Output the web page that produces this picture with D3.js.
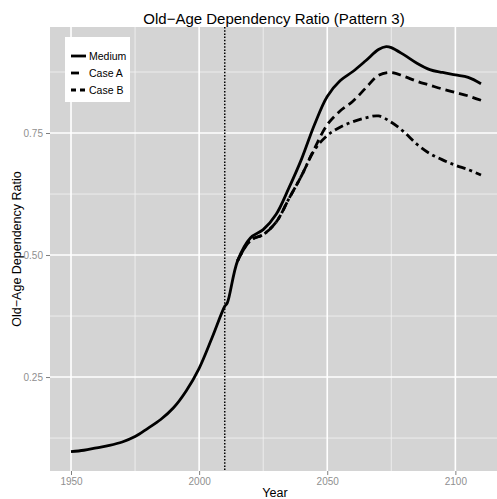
<!DOCTYPE html>
<html>
<head>
<meta charset="utf-8">
<script src="https://cdn.jsdelivr.net/npm/d3@7"></script>
<style>
  html, body { margin: 0; padding: 0; background: #ffffff; }
  svg { display: block; font-family: "Liberation Sans", Arial, sans-serif; }
</style>
</head>
<body>
<svg id="chart" width="497" height="499"></svg>
<script>
// Old-age dependency ratio, medium variant and two alternative cases
const medYears = [1950,1955,1960,1965,1970,1975,1980,1985,1990,1995,2000,2005,2010,2011,2015,2020,2025,2030,2035,2040,2045,2050,2055,2060,2065,2070,2073,2075,2080,2085,2090,2095,2100,2105,2110];
const medValues = [0.097,0.100,0.105,0.110,0.117,0.128,0.145,0.163,0.187,0.222,0.268,0.330,0.395,0.402,0.488,0.535,0.552,0.583,0.637,0.697,0.767,0.825,0.857,0.876,0.898,0.921,0.927,0.925,0.910,0.893,0.880,0.874,0.869,0.864,0.851];

const caseYears = [2015,2020,2025,2030,2035,2040,2045,2050,2055,2060,2065,2070,2075,2080,2085,2090,2095,2100,2105,2110];
const caseAValues = [0.488,0.530,0.542,0.567,0.615,0.663,0.718,0.767,0.795,0.815,0.842,0.868,0.874,0.866,0.856,0.848,0.840,0.833,0.826,0.817];
const caseBValues = [0.488,0.530,0.542,0.567,0.615,0.663,0.715,0.745,0.762,0.773,0.781,0.785,0.772,0.752,0.727,0.708,0.695,0.684,0.675,0.664];

const seriesNames = ["Medium", "Case A", "Case B"];
const xTicks = [1950, 2000, 2050, 2100];
const xMinor = [1975, 2025, 2075];
const yTicks = [0.25, 0.50, 0.75];
const yMinor = [0.125, 0.375, 0.625, 0.875];
const baseYear = 2010;

const svg = d3.select("#chart");
const panel = { left: 50, top: 27, right: 502, bottom: 471 };

const x = d3.scaleLinear().domain([1941.8, 2118.2]).range([panel.left, panel.right]);
const y = d3.scaleLinear().domain([0.0575, 0.9672]).range([panel.bottom, panel.top]);

// panel background
svg.append("rect")
  .attr("x", panel.left).attr("y", panel.top)
  .attr("width", panel.right - panel.left).attr("height", panel.bottom - panel.top)
  .attr("fill", "#d4d4d4");

// grid
const grid = svg.append("g");
grid.selectAll(".xminor").data(xMinor).join("line")
  .attr("x1", d => x(d)).attr("x2", d => x(d))
  .attr("y1", panel.top).attr("y2", panel.bottom)
  .attr("stroke", "#f2f2f2").attr("stroke-width", 0.8);
grid.selectAll(".yminor").data(yMinor).join("line")
  .attr("y1", d => y(d)).attr("y2", d => y(d))
  .attr("x1", panel.left).attr("x2", panel.right)
  .attr("stroke", "#f2f2f2").attr("stroke-width", 0.8);
grid.selectAll(".xmajor").data(xTicks).join("line")
  .attr("x1", d => x(d)).attr("x2", d => x(d))
  .attr("y1", panel.top).attr("y2", panel.bottom)
  .attr("stroke", "#ffffff").attr("stroke-width", 1.6);
grid.selectAll(".ymajor").data(yTicks).join("line")
  .attr("y1", d => y(d)).attr("y2", d => y(d))
  .attr("x1", panel.left).attr("x2", panel.right)
  .attr("stroke", "#ffffff").attr("stroke-width", 1.6);

// axes
const xAxis = d3.axisBottom(x).tickValues(xTicks).tickFormat(d3.format("d")).tickSize(4).tickPadding(3);
const yAxis = d3.axisLeft(y).tickValues(yTicks).tickFormat(d3.format(".2f")).tickSize(4).tickPadding(3);

const gx = svg.append("g").attr("transform", `translate(0,${panel.bottom})`).call(xAxis);
const gy = svg.append("g").attr("transform", `translate(${panel.left},0)`).call(yAxis);
[gx, gy].forEach(g => {
  g.select(".domain").remove();
  g.selectAll(".tick line").attr("stroke", "#7f7f7f").attr("stroke-width", 1);
  g.selectAll(".tick text").attr("fill", "#8f8f8f").attr("font-size", 10)
    .attr("font-family", "'Liberation Sans', Arial, sans-serif");
});

// base-year marker
svg.append("line")
  .attr("x1", x(baseYear)).attr("x2", x(baseYear))
  .attr("y1", panel.top).attr("y2", panel.bottom)
  .attr("stroke", "#000").attr("stroke-width", 1.5)
  .attr("stroke-dasharray", "1.5,1.7");

// series lines
const line = d3.line().x(d => x(d[0])).y(d => y(d[1])).curve(d3.curveCatmullRom.alpha(0.5));
const series = [
  { name: seriesNames[0], years: medYears, values: medValues, dash: null },
  { name: seriesNames[1], years: caseYears, values: caseAValues, dash: "9,5" },
  { name: seriesNames[2], years: caseYears, values: caseBValues, dash: "3,4,9,4" }
];
svg.append("clipPath").attr("id", "panelClip").append("rect")
  .attr("x", panel.left).attr("y", panel.top)
  .attr("width", panel.right - panel.left).attr("height", panel.bottom - panel.top);
const lines = svg.append("g").attr("clip-path", "url(#panelClip)");
series.slice().reverse().forEach(s => {
  lines.append("path")
    .datum(d3.zip(s.years, s.values))
    .attr("d", line)
    .attr("fill", "none")
    .attr("stroke", "#000")
    .attr("stroke-width", 2.8)
    .attr("stroke-dasharray", s.dash)
    .attr("stroke-linejoin", "round");
});

// legend
const lg = svg.append("g");
lg.append("rect").attr("x", 65).attr("y", 37).attr("width", 65).attr("height", 65).attr("fill", "#ffffff");
const legendDash = [null, "8,20", "5,4"];
series.forEach((s, i) => {
  const ly = 56 + i * 17;
  lg.append("line").attr("x1", 71).attr("x2", 86).attr("y1", ly).attr("y2", ly)
    .attr("stroke", "#000").attr("stroke-width", 2.8)
    .attr("stroke-dasharray", legendDash[i]);
  lg.append("text").attr("x", 89).attr("y", ly + 3.5)
    .attr("font-size", 10.5).attr("fill", "#000").text(s.name);
});

// titles
svg.append("text").attr("x", 274).attr("y", 24).attr("text-anchor", "middle")
  .attr("font-size", 15).attr("fill", "#000").text("Old\u2212Age Dependency Ratio (Pattern 3)");
svg.append("text").attr("x", 275).attr("y", 497).attr("text-anchor", "middle")
  .attr("font-size", 12.5).attr("fill", "#000").text("Year");
svg.append("text").attr("transform", `translate(21,${(panel.top + panel.bottom) / 2}) rotate(-90)`)
  .attr("text-anchor", "middle").attr("font-size", 12.5).attr("fill", "#000")
  .text("Old\u2212Age Dependency Ratio");
</script>
</body>
</html>
